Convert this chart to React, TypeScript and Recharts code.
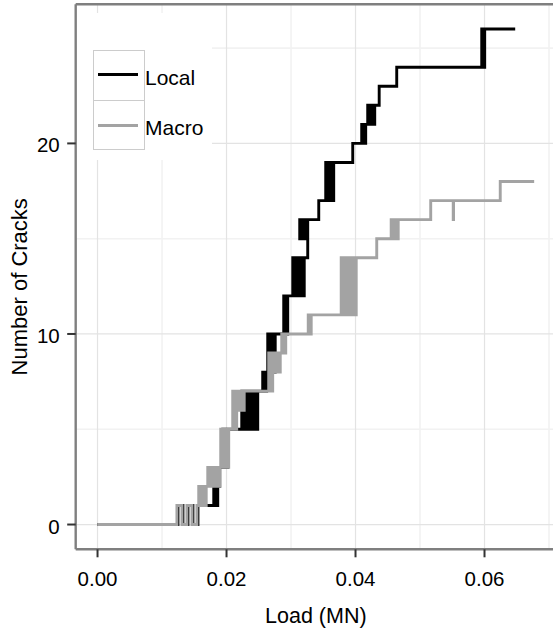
import React from 'react';
import { LineChart, Line, XAxis, YAxis, CartesianGrid } from 'recharts';

const seriesNames = ['Local', 'Macro'];
const seriesColors = ['#000000', '#a3a3a3'];

const xTicks = [0, 0.02, 0.04, 0.06];
const yTicks = [0, 10, 20];
const xMinor = [0.01, 0.03, 0.05, 0.07];
const yMinor = [5, 15, 25];
const xDomain = [-0.003385, 0.071085];
const yDomain = [-1.3, 27.3];

// Local: load at which the crack count changes, and the count after the change
const localLoad = [
  0, 0.01247, 0.01324, 0.01402, 0.01479, 0.01557,
  0.01802, 0.01833, 0.01864, 0.01895, 0.01941, 0.0198, 0.02019,
  0.02236, 0.02267, 0.02298, 0.02329, 0.0236, 0.02391, 0.02422, 0.02453, 0.02484,
  0.02561, 0.02592, 0.02623, 0.02639, 0.0267, 0.02701, 0.02732, 0.02755,
  0.02887, 0.02918, 0.02949,
  0.03027, 0.03057, 0.03088, 0.03119, 0.0315, 0.03181, 0.03205,
  0.03259, 0.03228, 0.03197, 0.03166, 0.03135,
  0.0343, 0.03538, 0.03569, 0.036, 0.03631, 0.03662,
  0.03957, 0.04096, 0.04127, 0.04158, 0.04189, 0.0422, 0.04251, 0.04282, 0.04298,
  0.04367, 0.04639, 0.05957, 0.0598, 0.06003, 0.06476,
];
const localCracks = [
  0, 1, 0, 1, 0, 1,
  2, 1, 2, 3, 5, 3, 5,
  7, 5, 7, 5, 7, 5, 7, 5, 7,
  8, 7, 8, 10, 8, 10, 8, 10,
  12, 10, 12,
  14, 12, 14, 12, 14, 12, 14,
  16, 15, 16, 15, 16,
  17, 19, 17, 19, 17, 19,
  20, 21, 20, 21, 22, 21, 22, 21, 22,
  23, 24, 26, 24, 26, 26,
];

// Macro
const macroLoad = [
  0, 0.01231, 0.01309, 0.01386, 0.01464, 0.01541,
  0.01569, 0.016, 0.01631, 0.01662, 0.01685,
  0.01709, 0.0174, 0.01771, 0.01802, 0.01833, 0.01864, 0.01895,
  0.0191, 0.01941, 0.01972, 0.02003, 0.02034,
  0.02096, 0.02127, 0.02158, 0.02189, 0.0222, 0.02251, 0.02274,
  0.02654, 0.02685, 0.02716, 0.02747, 0.02778, 0.02809, 0.02833,
  0.02856, 0.02887, 0.02918,
  0.03267, 0.03298, 0.03313,
  0.03778, 0.03809, 0.0384, 0.03871, 0.03902, 0.03933, 0.03964, 0.03995, 0.04011,
  0.04329,
  0.04553, 0.04584, 0.04616, 0.04647, 0.04662,
  0.05166, 0.05515, 0.0552, 0.06244, 0.0677,
];
const macroCracks = [
  0, 1, 0, 1, 0, 1,
  2, 1, 2, 1, 2,
  3, 2, 3, 2, 3, 2, 3,
  5, 3, 5, 3, 5,
  7, 5, 7, 6, 7, 6, 7,
  9, 7, 9, 8, 9, 8, 9,
  10, 9, 10,
  11, 10, 11,
  14, 11, 14, 11, 14, 11, 14, 11, 14,
  15,
  16, 15, 16, 15, 16,
  17, 16, 17, 18, 18,
];

const seriesData = [
  localLoad.map((x, i) => ({ load: x, cracks: localCracks[i] })),
  macroLoad.map((x, i) => ({ load: x, cracks: macroCracks[i] })),
];

const FONT = '"Liberation Sans", Arial, Helvetica, sans-serif';

function YTitle(props: any) {
  const vb = props.viewBox || { x: 0, y: 4.3, width: 75.7, height: 545 };
  const cx = vb.x + 27;
  const cy = vb.y + vb.height / 2 + 10;
  return (
    <text
      x={cx}
      y={cy}
      transform={`rotate(-90 ${cx} ${cy})`}
      textAnchor="middle"
      fontSize={22}
      fontFamily={FONT}
      fill="#000"
    >
      Number of Cracks
    </text>
  );
}

function XTitle(props: any) {
  const vb = props.viewBox || { x: 75.7, y: 549.3, width: 480.3, height: 80.7 };
  const cx = vb.x + vb.width / 2;
  const cy = vb.y + 74;
  return (
    <text x={cx} y={cy} textAnchor="middle" fontSize={21.5} fontFamily={FONT} fill="#000">
      Load (MN)
    </text>
  );
}

function LegendBox() {
  const keyTops = [49.7, 100];
  const keyHeights = [51.8, 49.5];
  const lineTops = [73.2, 124.4];
  const textTops = [66.2, 116.2];
  return (
    <div
      style={{
        position: 'absolute',
        left: 77,
        top: 13,
        width: 135,
        height: 147,
        background: '#ffffff',
      }}
    >
      {seriesNames.map((name, i) => (
        <React.Fragment key={name}>
          <div
            style={{
              position: 'absolute',
              left: 92.5 - 77,
              top: keyTops[i] - 13,
              width: 52,
              height: keyHeights[i],
              boxSizing: 'border-box',
              border: '1.6px solid #cccccc',
            }}
          />
          <div
            style={{
              position: 'absolute',
              left: 97.7 - 77,
              top: lineTops[i] - 13,
              width: 40.6,
              height: 2.8,
              background: seriesColors[i],
            }}
          />
          <div
            style={{
              position: 'absolute',
              left: 145 - 77,
              top: textTops[i] - 13,
              fontSize: 21,
              lineHeight: '24px',
              fontFamily: FONT,
              color: '#000',
              whiteSpace: 'nowrap',
            }}
          >
            {name}
          </div>
        </React.Fragment>
      ))}
    </div>
  );
}

export default function App() {
  return (
    <div
      style={{
        position: 'absolute',
        left: 0,
        top: 0,
        width: 553,
        height: 630,
        overflow: 'hidden',
        background: '#ffffff',
      }}
    >
      <LineChart width={557} height={630} margin={{ top: 0, right: 1, bottom: 0, left: 0 }}>
        <CartesianGrid
          stroke="#f2f2f2"
          strokeWidth={1.6}
          horizontalValues={yMinor}
          verticalValues={xMinor}
        />
        <CartesianGrid stroke="#e3e3e3" strokeWidth={1.2} />
        <XAxis
          xAxisId="top"
          orientation="top"
          type="number"
          dataKey="load"
          domain={xDomain}
          allowDataOverflow
          height={4.3}
          tick={false}
          tickLine={false}
          axisLine={{ stroke: '#7f7f7f', strokeWidth: 2.4 }}
        />
        <XAxis
          type="number"
          dataKey="load"
          domain={xDomain}
          allowDataOverflow
          ticks={xTicks}
          interval={0}
          height={80.7}
          tickSize={8}
          tickMargin={13.8}
          tickFormatter={(v: number) => v.toFixed(2)}
          tick={{ fontSize: 20.5, fill: '#000', fontFamily: FONT }}
          tickLine={{ stroke: '#333333', strokeWidth: 2 }}
          axisLine={{ stroke: '#7f7f7f', strokeWidth: 2.4 }}
          label={<XTitle />}
        />
        <YAxis
          type="number"
          domain={yDomain}
          allowDataOverflow
          ticks={yTicks}
          interval={0}
          width={75.7}
          tickSize={8.5}
          tickMargin={7.5}
          tick={{ fontSize: 20.5, fill: '#000', fontFamily: FONT, dy: 1.7 }}
          tickLine={{ stroke: '#333333', strokeWidth: 2 }}
          axisLine={{ stroke: '#7f7f7f', strokeWidth: 2.4 }}
          label={<YTitle />}
        />
        {seriesNames.map((name, i) => (
          <Line
            key={name}
            name={name}
            data={seriesData[i]}
            dataKey="cracks"
            type="stepAfter"
            stroke={seriesColors[i]}
            strokeWidth={2.9}
            dot={false}
            activeDot={false}
            isAnimationActive={false}
          />
        ))}
      </LineChart>
      <LegendBox />
    </div>
  );
}
